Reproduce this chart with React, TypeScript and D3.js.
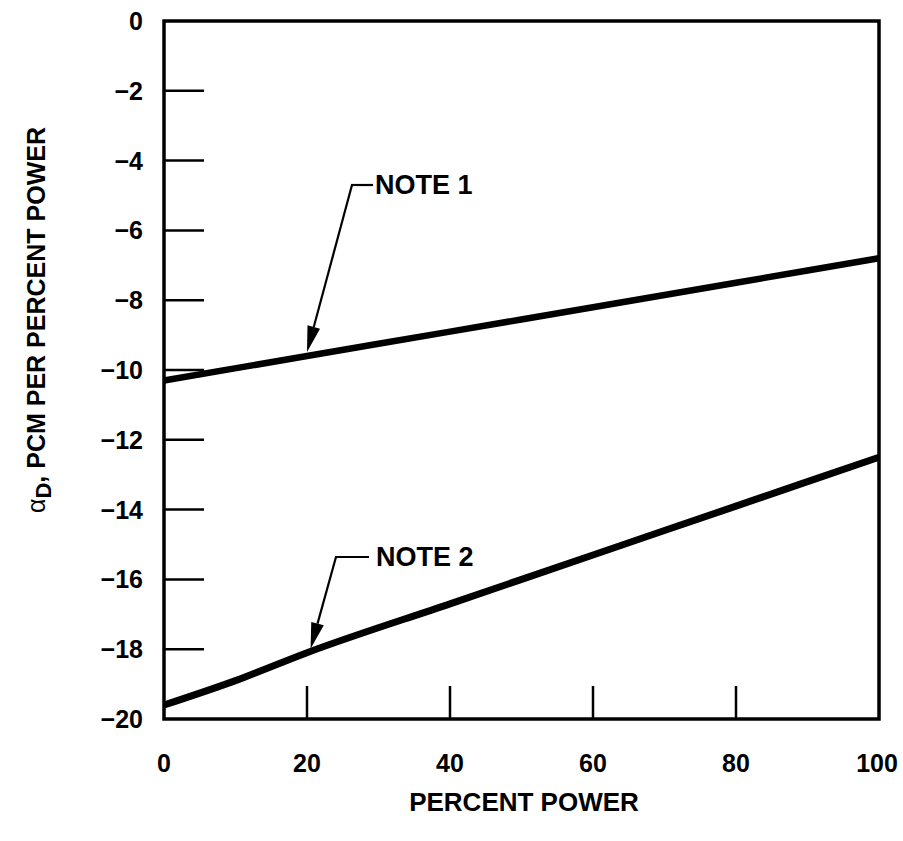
import React from "react";
import * as d3 from "d3";

// Doppler coefficient vs. percent power
const powerPct = [0, 20, 40, 60, 80, 100];
const note1Alpha = [-10.3, -9.6, -8.9, -8.2, -7.5, -6.8];
const powerPct2 = [0, 10, 20, 40, 60, 80, 100];
const note2Alpha = [-19.6, -18.9, -18.1, -16.7, -15.3, -13.9, -12.5];
const xTicks = [0, 20, 40, 60, 80, 100];
const yTicks = [0, -2, -4, -6, -8, -10, -12, -14, -16, -18, -20];

const W = 903;
const H = 841;
const left = 164;
const right = 879;
const top = 21;
const bottom = 719;

export default function App() {
  const x = d3.scaleLinear().domain([0, 100]).range([left, right]);
  const y = d3.scaleLinear().domain([-20, 0]).range([bottom, top]);
  const line = d3
    .line<[number, number]>()
    .x((d) => x(d[0]))
    .y((d) => y(d[1]))
    .curve(d3.curveMonotoneX);

  const s1 = powerPct.map((p, i) => [p, note1Alpha[i]] as [number, number]);
  const s2 = powerPct2.map((p, i) => [p, note2Alpha[i]] as [number, number]);

  const font = "'Liberation Sans', Arial, Helvetica, sans-serif";

  // leader arrows: corner point -> tip on curve
  const arrow = (cx: number, cy: number, tx: number, ty: number) => {
    const ang = Math.atan2(ty - cy, tx - cx);
    const len = 26;
    const hw = 6.5;
    const bx = tx - len * Math.cos(ang);
    const by = ty - len * Math.sin(ang);
    const px = -Math.sin(ang) * hw;
    const py = Math.cos(ang) * hw;
    return (
      <g>
        <line x1={cx} y1={cy} x2={bx} y2={by} stroke="#000" strokeWidth={2.2} />
        <polygon
          points={`${tx},${ty} ${bx + px},${by + py} ${bx - px},${by - py}`}
          fill="#000"
        />
      </g>
    );
  };

  const tip1x = x(20);
  const tip1y = y(-9.6) - 4;
  const tip2x = x(20.5);
  const tip2y = y(-18.1) - 4;

  return (
    <svg
      width={W}
      height={H}
      style={{ display: "block", position: "absolute", left: 0, top: 0, background: "#fff" }}
    >
      <rect width={W} height={H} fill="#fff" />
      {/* frame */}
      <rect
        x={left}
        y={top}
        width={right - left}
        height={bottom - top}
        fill="none"
        stroke="#000"
        strokeWidth={3.5}
      />
      {/* y ticks (inward) */}
      {yTicks.map((t) => (
        <g key={"y" + t}>
          {t !== 0 && t !== -20 && (
            <line x1={left} x2={left + 40} y1={y(t)} y2={y(t)} stroke="#000" strokeWidth={2.5} />
          )}
          <text
            x={143}
            y={y(t)}
            textAnchor="end"
            dominantBaseline="central"
            fontFamily={font}
            fontWeight="bold"
            fontSize={25}
          >
            {t < 0 ? "\u2212" + Math.abs(t) : String(t)}
          </text>
        </g>
      ))}
      {/* x ticks (inward) */}
      {xTicks.map((t) => (
        <g key={"x" + t}>
          {t !== 0 && t !== 100 && (
            <line x1={x(t)} x2={x(t)} y1={bottom} y2={bottom - 33} stroke="#000" strokeWidth={2.5} />
          )}
          <text
            x={t === 100 ? x(t) - 2 : x(t)}
            y={772}
            textAnchor="middle"
            fontFamily={font}
            fontWeight="bold"
            fontSize={25}
          >
            {t}
          </text>
        </g>
      ))}
      {/* curves */}
      <path d={line(s1) || ""} fill="none" stroke="#000" strokeWidth={6.5} />
      <path d={line(s2) || ""} fill="none" stroke="#000" strokeWidth={7} />
      {/* note 1 */}
      <line x1={351} x2={373} y1={185} y2={185} stroke="#000" strokeWidth={2.2} />
      {arrow(352, 185, tip1x, tip1y)}
      <text x={375} y={194} fontFamily={font} fontWeight="bold" fontSize={27}>
        NOTE 1
      </text>
      {/* note 2 */}
      <line x1={335} x2={369} y1={557} y2={557} stroke="#000" strokeWidth={2.2} />
      {arrow(336, 557, tip2x, tip2y)}
      <text x={376} y={566} fontFamily={font} fontWeight="bold" fontSize={27}>
        NOTE 2
      </text>
      {/* axis titles */}
      <text
        x={524}
        y={811}
        textAnchor="middle"
        fontFamily={font}
        fontWeight="bold"
        fontSize={26}
      >
        PERCENT POWER
      </text>
      <text
        transform={`translate(45, 320) rotate(-90)`}
        textAnchor="middle"
        fontFamily={font}
        fontWeight="bold"
        fontSize={25}
      >
        <tspan fontWeight="normal">α</tspan>
        <tspan fontSize={22} dy={6}>D</tspan>
        <tspan dy={-6}>, PCM PER PERCENT POWER</tspan>
      </text>
    </svg>
  );
}
